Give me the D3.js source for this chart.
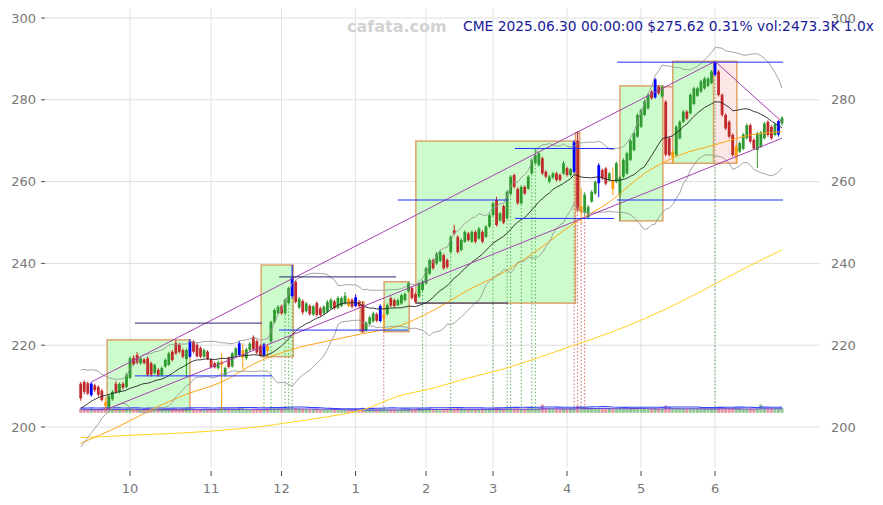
<!DOCTYPE html>
<html><head><meta charset="utf-8">
<script src="https://cdn.jsdelivr.net/npm/d3@7"></script>
<style>body{margin:0;background:#fff;}svg{display:block;font-family:"DejaVu Sans",sans-serif;}</style>
</head><body><svg id="c" width="883" height="505"></svg>
<script>
// ---- data ----
const open=[210.6,211.0,210.7,207.8,210.2,209.8,208.9,206.0,204.8,206.8,
210.6,208.6,210.6,209.8,212.0,216.9,217.6,215.6,216.5,216.8,
215.6,213.2,214.0,212.7,214.8,215.2,218.4,220.5,220.1,218.8,
216.6,217.2,220.9,220.1,219.3,217.2,218.4,216.4,215.6,214.4,
215.2,212.7,216.8,214.8,217.4,217.6,217.0,216.8,218.8,222.0,
221.0,219.8,217.6,219.8,220.9,225.6,227.8,229.5,227.8,230.3,
232.0,235.5,229.2,230.8,228.3,229.6,227.5,230.3,229.0,227.8,
228.2,229.0,230.7,229.1,229.6,230.2,231.3,231.1,229.6,230.6,
230.0,223.6,225.2,225.8,227.6,225.9,226.5,227.6,231.5,231.0,
229.8,230.2,231.0,233.2,234.0,232.5,231.9,233.5,235.1,237.5,
240.8,240.0,240.6,242.0,240.8,242.8,248.1,246.5,243.3,245.3,
247.3,245.3,247.7,246.1,247.7,246.5,249.0,251.8,255.5,250.5,
254.0,251.0,257.0,261.6,258.2,254.7,258.7,258.3,262.0,264.5,
264.0,265.7,262.4,260.0,261.0,262.0,261.6,262.0,263.3,261.6,
262.4,270.0,252.4,252.4,251.2,255.1,257.1,259.6,262.8,263.2,
260.4,260.4,260.0,256.8,261.2,262.0,265.3,267.7,271.0,273.4,
276.3,277.9,282.0,280.6,283.2,280.8,279.5,270.6,266.0,266.5,
270.6,274.6,277.1,276.7,279.0,281.0,282.0,282.8,283.4,284.1,
286.1,286.9,281.2,276.3,274.6,271.4,266.0,267.3,268.0,270.6,
273.8,270.2,267.7,268.5,270.6,274.6,273.4,271.4,271.5,274.2];
const high=[211.0,211.4,211.1,211.0,210.6,210.2,209.3,207.3,208.0,209.0,
211.2,210.9,211.0,213.2,217.3,217.5,218.3,217.2,216.9,217.3,
216.0,215.5,214.4,214.8,216.8,218.4,218.8,221.3,220.5,219.2,
219.2,221.5,221.2,220.5,219.7,219.2,218.8,216.8,216.0,216.2,
218.0,214.8,217.2,218.4,219.6,221.0,220.5,219.4,220.8,222.4,
221.4,220.2,220.6,220.4,226.0,229.0,229.8,229.9,231.5,234.3,
239.6,236.0,231.8,231.2,230.6,230.0,229.9,230.7,229.4,229.8,
231.0,231.5,231.1,232.0,231.9,233.0,231.7,231.5,232.4,231.0,
230.6,225.9,227.2,228.2,228.0,230.0,230.2,230.2,231.9,231.4,
231.4,232.6,232.9,235.5,234.4,232.9,235.4,236.0,239.2,241.2,
241.2,242.8,243.2,242.4,241.2,246.9,249.4,246.9,246.1,248.1,
247.7,248.1,248.1,248.9,248.1,249.4,252.2,255.1,256.3,252.6,
254.4,257.9,261.6,262.0,258.6,259.1,259.1,261.6,265.7,268.1,
267.3,266.1,262.8,261.6,262.4,262.4,262.0,265.0,263.7,263.4,
270.1,272.2,258.4,257.4,254.3,257.9,260.3,264.5,263.2,263.6,
262.4,263.4,264.9,261.5,265.7,267.3,270.4,272.2,276.7,277.9,
280.0,281.6,282.4,285.3,283.6,283.5,279.9,271.0,267.7,273.8,
275.0,277.5,277.5,281.6,283.2,283.2,284.9,285.6,285.6,287.3,
289.4,287.3,281.6,276.7,275.0,271.8,269.0,269.8,271.9,274.2,
274.2,270.6,272.2,272.4,274.6,275.0,273.8,274.4,275.0,276.0];
const low=[206.4,208.0,207.8,207.4,208.5,207.4,206.2,204.2,204.5,206.4,
208.2,208.2,209.2,209.4,211.7,215.0,215.3,215.2,215.3,212.4,
212.3,212.8,212.3,212.3,214.5,214.9,216.0,217.6,218.0,216.8,
212.3,217.0,218.0,217.0,216.8,216.9,216.4,214.3,214.3,214.0,
204.2,212.3,214.3,214.5,217.0,217.2,214.2,216.4,218.4,218.6,
217.8,217.2,217.2,217.2,220.6,225.3,227.5,227.4,227.5,230.0,
231.5,230.2,228.8,227.5,228.0,227.2,227.2,227.0,227.0,227.4,
227.9,228.7,228.7,228.8,229.3,229.9,229.3,229.0,229.3,229.2,
223.0,223.3,224.9,225.5,225.6,225.6,223.3,227.3,229.3,229.2,
229.5,229.9,230.7,232.9,231.1,230.3,231.6,233.2,234.8,237.2,
238.4,239.6,240.3,238.4,238.7,242.5,246.9,242.4,243.0,245.0,
245.3,245.0,244.9,245.8,244.9,246.2,248.7,251.5,249.0,250.2,
249.6,250.7,256.7,258.3,254.3,254.4,256.7,258.0,261.7,264.2,
263.7,261.6,260.8,259.6,260.6,260.0,260.0,261.6,261.2,261.2,
262.0,252.8,249.8,251.9,250.8,254.8,256.8,256.2,260.4,259.1,
260.0,256.7,259.6,250.4,260.8,261.7,265.0,267.4,270.7,273.1,
276.0,277.6,280.0,280.3,281.2,280.5,266.2,266.1,264.4,266.2,
270.3,274.3,275.0,276.4,278.7,280.7,281.7,282.5,283.1,283.8,
285.8,280.8,275.9,272.6,270.6,266.1,264.5,267.0,267.7,270.3,
269.4,267.7,263.3,268.2,270.3,271.0,270.2,271.1,271.0,273.6];
const close=[207.0,208.6,208.2,210.6,209.0,207.9,206.6,205.2,207.6,208.6,
208.6,210.5,209.6,212.7,216.8,215.3,215.7,216.8,215.6,212.8,
212.8,215.2,212.7,214.4,216.4,218.0,216.4,218.0,218.4,217.2,
218.8,221.0,218.4,217.3,217.2,218.8,216.7,214.7,214.6,215.8,
216.0,214.4,214.7,218.0,219.2,220.5,218.8,219.0,220.4,219.0,
218.2,217.6,220.2,218.6,225.7,228.6,229.4,227.8,231.1,233.9,
236.5,230.6,231.4,228.0,230.2,227.6,229.5,227.4,227.4,229.4,
230.6,231.1,229.1,231.6,231.5,232.1,229.6,229.4,231.7,229.6,
223.4,225.5,226.8,227.8,226.0,229.6,227.5,229.8,229.7,229.6,
231.0,232.2,232.5,235.2,231.5,230.6,235.1,235.6,238.8,240.8,
238.8,242.4,242.8,238.8,239.1,246.5,247.3,242.8,245.7,247.7,
245.7,247.7,245.3,248.5,245.3,249.0,251.8,254.7,249.4,252.2,
250.0,257.5,261.2,258.7,254.7,258.7,257.1,261.2,265.3,266.5,
266.9,262.0,261.2,261.2,262.0,260.4,260.4,264.5,261.6,263.0,
269.6,253.4,254.0,256.8,253.8,257.5,259.9,264.0,260.8,259.5,
262.0,258.2,264.5,261.0,265.3,266.9,270.0,271.8,276.3,277.5,
279.6,281.2,280.4,285.0,281.6,283.2,266.6,266.5,267.3,273.4,
274.6,277.1,275.4,281.2,282.8,282.8,284.5,285.2,285.2,286.9,
289.0,281.2,276.3,273.0,271.0,266.5,268.6,269.4,271.5,273.8,
269.8,268.1,271.8,272.0,274.2,271.4,270.6,274.0,274.77,275.62];
const volume=[2100,1900,2050,2300,1850,1950,2200,2600,2400,2000,
1900,1800,1750,2100,2500,2050,1900,1800,1700,2300,
2200,1900,1850,1800,1900,2000,2100,2300,2000,1900,
2700,2400,2100,2000,1900,1850,1800,2000,2100,1950,
3000,2400,2200,2300,2100,2500,2700,2000,1900,2100,
2000,1900,2200,2300,2800,2900,2500,2300,2600,2700,
3000,2500,2200,2000,1900,1800,1850,1900,1700,1600,
1700,1650,1600,1500,1400,1450,1600,1700,1800,1750,
2600,2200,2000,1900,1850,2100,2500,2000,1950,1900,
1800,1850,1900,2100,2000,2050,2200,2300,2400,2500,
2200,2100,2000,2100,2150,2600,2300,2400,2200,2000,
1900,2000,1950,1900,1850,2000,2200,2400,2600,2200,
2300,2800,2600,2400,2300,2200,2100,2300,2500,2400,
2600,4200,2500,2300,2100,2000,1900,2100,2000,2200,
2800,3600,3300,3000,2800,2500,2300,2600,2400,2300,
2200,2100,2300,2600,2500,2400,2600,2700,2500,2400,
2300,2200,2100,2400,2300,2200,3800,2900,2600,2500,
2300,2200,2100,2300,2400,2200,2100,2200,2300,2500,
2700,2600,2500,2600,2400,2500,2700,2300,2200,2100,
2200,2000,2300,4300,2400,2200,2100,2300,2400,2473.3];
// closes before the first shown bar (read from where the MA20 / bands start)
const warmupClose=[197.5,196.8,198.2,199.5,200.1,199.4,201.2,202.8,203.5,204.9,205.6,206.8,207.9,208.4,209.6,210.2,209.5,210.8,211.3];
const blueIdx=[3,31,45,52,60,78,85,140,147,163,180,198];
const orangeIdx=[7,40,46,53,76,86,142,151,168,186];
const maIdx=[0,10,20,30,40,50,60,70,80,90,100,110,120,130,140,150,160,170,180,190,199];
const ma60=[196.0,199.8,204.2,208.0,211.0,215.8,219.0,221.0,222.8,224.6,228.5,233.5,237.8,243.5,249.8,255.0,262.0,266.5,269.0,271.4,272.2];
const ma120=[197.4,197.8,198.2,198.6,199.2,200.0,201.2,202.5,204.2,207.5,209.5,212.0,214.2,217.0,220.0,223.0,226.5,230.5,235.0,239.5,243.3];
const monthTickIdx=[14,37,57,78,98,117,138,159,180];
const monthTickLabels=["10","11","12","1","2","3","4","5","6"];
const yTicks=[200,220,240,260,280,300];
// boxes: [startIdx, endIdx, low, high, kind]
const boxes=[[7.5,31,204.2,221.3,"up"],[51.2,60.3,217.2,239.6,"up"],[79.3,80.4,223.3,230.6,"down"],
[86.1,93.2,223.3,235.5,"up"],[95.1,140.4,230.3,269.9,"up"],[140.4,141.6,253.0,272.0,"down"],
[153,165.2,250.4,283.4,"up"],[165.2,168,264.5,283.2,"down"],[168,179.6,264.5,289.4,"up"],[179.6,186.2,264.5,289.4,"down"]];
// horizontal levels: [startIdx, endIdx, value, kind]
const levels=[[15.4,54.3,212.5,"mid"],[15.4,51.4,225.4,"edge"],[56.3,89.5,236.7,"edge"],[56.3,92.9,223.7,"mid"],
[90,121.3,255.5,"mid"],[95.1,121.3,230.3,"edge"],[123.2,151.3,268.1,"mid"],[123.2,151.3,251.0,"mid"],
[152.2,199.3,255.5,"mid"],[152.2,199.3,289.2,"mid"]];
// trend lines: [[i0,v0],[i1,v1]]
const trendLines=[[[3,211.0],[180,289.4]],[[7,204.2],[199,270.6]],[[180,289.4],[199,274.6]]];
const signalUp=[52,54,58,59,60,97,105,117,121,122,125,128,129,180];
const signalDown=[86,140,141,142,143];
const title={sym:"CME",date:"2025.06.30 00:00:00",lev:"1.0x"};

// ---- drawing ----
const svg=d3.select("#c");
const N=close.length;
const x=d3.scaleLinear().domain([0,N-1]).range([80.7,782.0]);
const y=d3.scaleLinear().domain([200,300]).range([427,18]);
const yv=d3.scaleLinear().domain([0,5000]).range([412.8,403]);

// grid
svg.append("g").selectAll("line").data(yTicks).join("line")
 .attr("x1",42).attr("x2",820).attr("y1",d=>y(d)).attr("y2",d=>y(d))
 .attr("stroke","#dedede").attr("stroke-width",1);
svg.append("g").selectAll("line").data(monthTickIdx).join("line")
 .attr("x1",d=>x(d)).attr("x2",d=>x(d)).attr("y1",8).attr("y2",468)
 .attr("stroke","#e2e2e2").attr("stroke-width",1);

// boxes
svg.append("g").selectAll("rect").data(boxes).join("rect")
 .attr("x",d=>x(d[0])).attr("width",d=>x(d[1])-x(d[0]))
 .attr("y",d=>y(d[3])).attr("height",d=>y(d[2])-y(d[3]))
 .attr("fill",d=>d[4]==="up"?"#ccfccc":"#fde6e6")
 .attr("stroke","#dca36c").attr("stroke-width",1.5);

// volume
const vColor=i=>close[i]>=open[i]?"rgba(70,160,70,0.6)":"rgba(210,80,100,0.6)";
svg.append("g").selectAll("rect").data(volume).join("rect")
 .attr("x",(d,i)=>x(i)-1.5).attr("width",3)
 .attr("y",d=>yv(d)).attr("height",d=>yv(0)-yv(d))
 .attr("fill",(d,i)=>vColor(i));
function sma(arr,n){return arr.map((d,i)=>{const s=arr.slice(Math.max(0,i-n+1),i+1);return d3.mean(s);});}
const vm1=sma(volume,10), vm2=sma(volume,20);
[vm1,vm2].forEach((m,k)=>{
 svg.append("path").datum(m.map((v,i)=>[i,v])).attr("fill","none")
  .attr("stroke",k===0?"#3344ff":"#6a4ad8").attr("stroke-width",1.1)
  .attr("d",d3.line().x(d=>x(d[0])).y(d=>yv(d[1])+(k===0?-0.8:0.8)));
});

// signal dotted lines
const sig=signalUp.map(i=>[i,"#3a9a3a"]).concat(signalDown.map(i=>[i,"#d04040"]));
svg.append("g").selectAll("line").data(sig).join("line")
 .attr("x1",d=>x(d[0])).attr("x2",d=>x(d[0]))
 .attr("y1",d=>y(low[d[0]])).attr("y2",408)
 .attr("stroke",d=>d[1]).attr("stroke-width",0.8).attr("stroke-dasharray","1.5,2");

// candles
const cCol=i=>blueIdx.includes(i)?"#0000ff":orangeIdx.includes(i)?"#ff9a00":(close[i]>=open[i]?"#2f9a2f":"#c02a2a");
const cg=svg.append("g");
cg.selectAll("line").data(close).join("line")
 .attr("x1",(d,i)=>x(i)).attr("x2",(d,i)=>x(i))
 .attr("y1",(d,i)=>y(high[i])).attr("y2",(d,i)=>y(low[i]))
 .attr("stroke",(d,i)=>cCol(i)).attr("stroke-width",1);
cg.selectAll("rect").data(close).join("rect")
 .attr("x",(d,i)=>x(i)-1.4).attr("width",2.8)
 .attr("y",(d,i)=>y(Math.max(open[i],close[i])))
 .attr("height",(d,i)=>Math.max(1,Math.abs(y(open[i])-y(close[i]))))
 .attr("fill",(d,i)=>cCol(i));

// indicator lines
const all=warmupClose.concat(close), W0=warmupClose.length;
const ma20=[],bbU=[],bbL=[];
for(let i=0;i<N;i++){const w=all.slice(i+W0-19,i+W0+1);const m=d3.mean(w);const sd=Math.sqrt(d3.mean(w.map(v=>(v-m)*(v-m))));ma20.push([i,m]);bbU.push([i,m+2*sd]);bbL.push([i,m-2*sd]);}
const ln=d3.line().x(d=>x(d[0])).y(d=>y(d[1]));
const lnC=d3.line().x(d=>x(d[0])).y(d=>y(d[1])).curve(d3.curveMonotoneX);
svg.append("path").datum(maIdx.map((i,k)=>[i,ma120[k]])).attr("d",lnC).attr("fill","none").attr("stroke","#ffd21f").attr("stroke-width",1);
svg.append("path").datum(maIdx.map((i,k)=>[i,ma60[k]])).attr("d",lnC).attr("fill","none").attr("stroke","#ffa514").attr("stroke-width",1);
[bbU,bbL].forEach(b=>svg.append("path").datum(b).attr("d",ln).attr("fill","none").attr("stroke","#999").attr("stroke-width",0.9));
svg.append("path").datum(ma20).attr("d",ln).attr("fill","none").attr("stroke","#222").attr("stroke-width",0.9);

// trend lines
svg.append("g").selectAll("line").data(trendLines).join("line")
 .attr("x1",d=>x(d[0][0])).attr("y1",d=>y(d[0][1])).attr("x2",d=>x(d[1][0])).attr("y2",d=>y(d[1][1]))
 .attr("stroke","#a640b0").attr("stroke-width",1);

// levels
svg.append("g").selectAll("line").data(levels).join("line")
 .attr("x1",d=>x(d[0])).attr("x2",d=>x(d[1])).attr("y1",d=>y(d[2])).attr("y2",d=>y(d[2]))
 .attr("stroke",d=>d[3]==="mid"?"#1f2fff":"#26266e").attr("stroke-width",1);

// axes text
const tc="#777";
svg.append("g").selectAll("text").data(yTicks).join("text")
 .attr("x",36).attr("y",d=>y(d)).attr("dy","0.35em").attr("text-anchor","end")
 .attr("font-size",13).attr("fill",tc).text(d=>d);
svg.append("g").selectAll("line").data(yTicks).join("line")
 .attr("x1",41).attr("x2",45).attr("y1",d=>y(d)).attr("y2",d=>y(d)).attr("stroke","#555");
svg.append("g").selectAll("text").data(yTicks).join("text")
 .attr("x",831).attr("y",d=>y(d)).attr("dy","0.35em").attr("text-anchor","start")
 .attr("font-size",13).attr("fill",tc).text(d=>d);
svg.append("g").selectAll("line").data(monthTickIdx).join("line")
 .attr("x1",d=>x(d)).attr("x2",d=>x(d)).attr("y1",471).attr("y2",476).attr("stroke","#444");
svg.append("g").selectAll("text").data(monthTickIdx).join("text")
 .attr("x",d=>x(d)).attr("y",493).attr("text-anchor","middle")
 .attr("font-size",13).attr("fill",tc).text((d,k)=>monthTickLabels[k]);

// title
const last=close[N-1], prev=close[N-2];
svg.append("text").attr("x",347).attr("y",32).attr("font-size",16).attr("font-weight","bold")
 .attr("fill","#d2d2d2").text("cafata.com");
svg.append("text").attr("x",463).attr("y",31).attr("font-size",13.8).attr("fill","#1a1a9a")
 .text(`${title.sym} ${title.date} $${last.toFixed(2)} ${((last/prev-1)*100).toFixed(2)}% vol:${volume[N-1].toFixed(1)}K ${title.lev}`);
</script></body></html>
